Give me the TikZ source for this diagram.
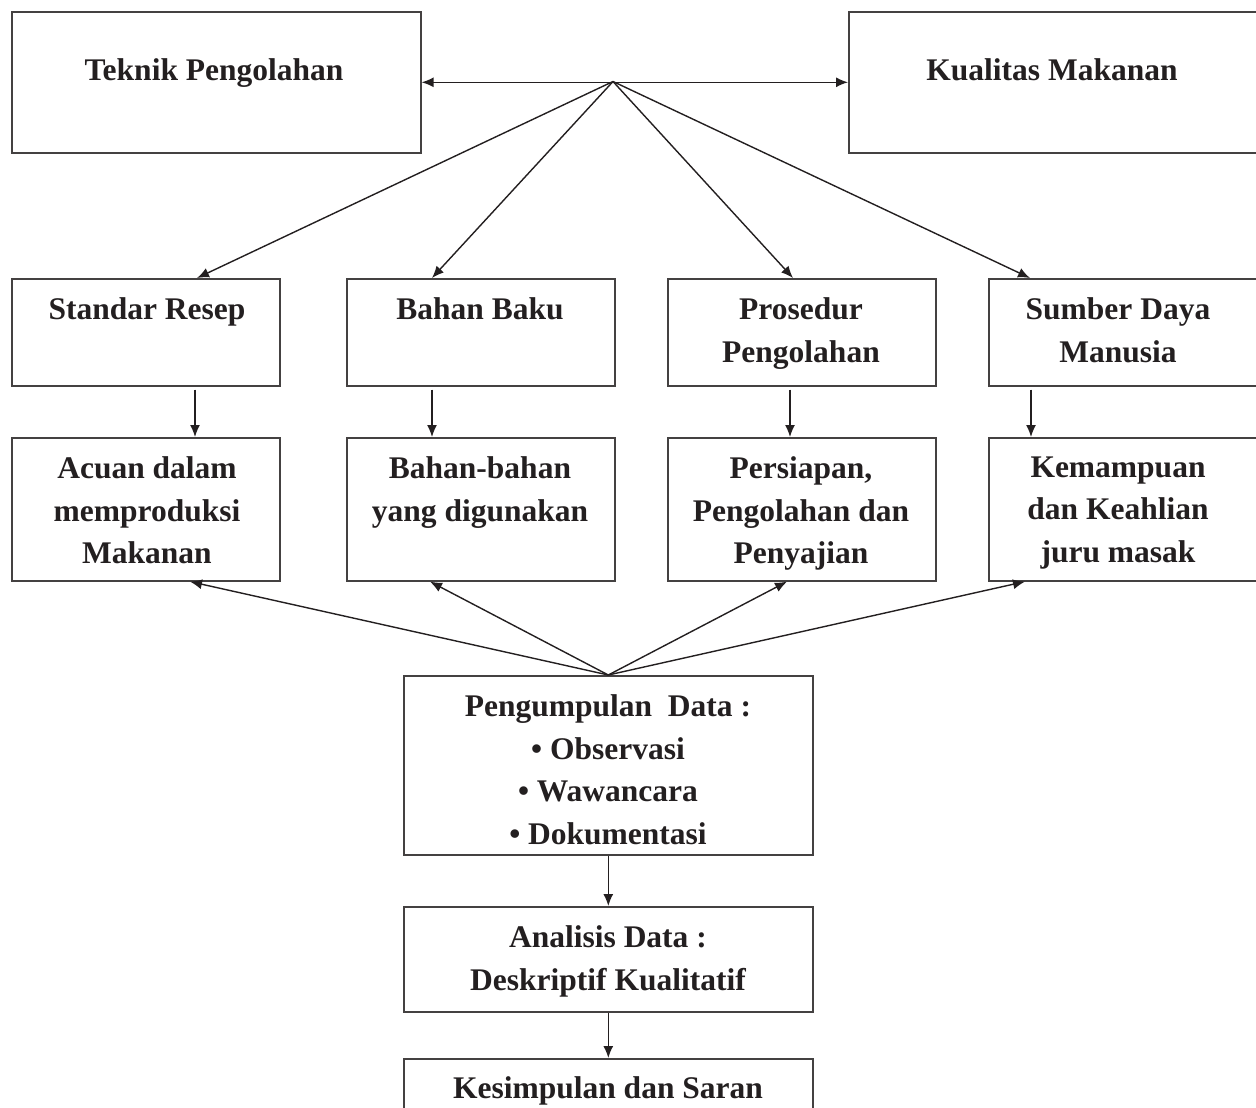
\documentclass[tikz,border=0pt]{standalone}
\usepackage{fontspec}
\setmainfont{Liberation Serif}
\usetikzlibrary{arrows.meta,calc}
\definecolor{ink}{HTML}{231F20}
\begin{document}
\begin{tikzpicture}[x=1pt,y=-1pt,
  box/.style={draw=ink!85, line width=1.6pt, rectangle, inner sep=0pt, anchor=north west},
  lbl/.style={anchor=north, inner sep=0pt, align=center, text=ink, font=\bfseries\fontsize{31.5}{42.5}\selectfont},
  arr/.style={draw=ink, line width=1.4pt, -{Latex[length=12pt,width=10pt]}},
  darr/.style={draw=ink, line width=1.4pt, {Latex[length=12pt,width=10pt]}-{Latex[length=12pt,width=10pt]}},
]
\path[use as bounding box] (0,0) rectangle (1256,1108);
\clip (0,0) rectangle (1256,1108);
% boxes
\node[box, minimum width=409pt, minimum height=141pt] (tek) at (11,11) {};
\node[box, minimum width=414pt, minimum height=141pt] (kual) at (848,11) {};
\node[box, minimum width=268pt, minimum height=107pt] (sr) at (11,278) {};
\node[box, minimum width=268pt, minimum height=107pt] (bb) at (346,278) {};
\node[box, minimum width=268pt, minimum height=107pt] (ps) at (667,278) {};
\node[box, minimum width=274pt, minimum height=107pt] (sdm) at (988,278) {};
\node[box, minimum width=268pt, minimum height=143pt] (ac) at (11,437) {};
\node[box, minimum width=268pt, minimum height=143pt] (bh) at (346,437) {};
\node[box, minimum width=268pt, minimum height=143pt] (pp) at (667,437) {};
\node[box, minimum width=274pt, minimum height=143pt] (km) at (988,437) {};
\node[box, minimum width=409pt, minimum height=179pt] (peng) at (403,675) {};
\node[box, minimum width=409pt, minimum height=105pt] (ana) at (403,906) {};
\node[box, minimum width=409pt, minimum height=80pt] (kes) at (403,1058) {};
% labels
\node[lbl] (tekt) at (214,58.5) {Teknik Pengolahan};
\node[lbl] (kualt) at (1052,58.5) {Kualitas Makanan};
\node[lbl] (srt) at (147,297.5) {Standar Resep};
\node[lbl] (bbt) at (480,297.5) {Bahan Baku};
\node[lbl] (pst) at (801,297.5) {Prosedur\\Pengolahan};
\node[lbl] (sdmt) at (1118,297.5) {Sumber Daya\\Manusia};
\node[lbl] (act) at (147,456.5) {Acuan dalam\\memproduksi\\Makanan};
\node[lbl] (bht) at (480,456.5) {Bahan-bahan\\yang digunakan};
\node[lbl] (ppt) at (801,456.5) {Persiapan,\\Pengolahan dan\\Penyajian};
\node[lbl] (kmt) at (1118,456.5) {Kemampuan\\dan Keahlian\\juru masak};
\node[lbl] (pengt) at (608,694.5) {Pengumpulan~ Data :\\• Observasi\\• Wawancara\\• Dokumentasi};
\node[lbl] (anat) at (608,925.5) {Analisis Data :\\Deskriptif Kualitatif};
\node[lbl] (kest) at (608,1076.5) {Kesimpulan dan Saran};
% top hub
\coordinate (hub) at (613,81.5);
\draw[darr] (tek.east) -- (kual.west);
\draw[arr] (hub) -- ($(sr.north west)+(186,0)$);
\draw[arr] (hub) -- ($(bb.north west)+(86,0)$);
\draw[arr] (hub) -- ($(ps.north west)+(126,0)$);
\draw[arr] (hub) -- ($(sdm.north west)+(42,0)$);
% verticals
\draw[arr] ($(sr.south west)+(184,3)$) -- ($(ac.north west)+(184,0)$);
\draw[arr] ($(bb.south west)+(86,3)$) -- ($(bh.north west)+(86,0)$);
\draw[arr] ($(ps.south west)+(123,3)$) -- ($(pp.north west)+(123,0)$);
\draw[arr] ($(sdm.south west)+(43,3)$) -- ($(km.north west)+(43,0)$);
% bottom hub
\draw[arr] (peng.north) -- ($(ac.south west)+(179,0)$);
\draw[arr] (peng.north) -- ($(bh.south west)+(84,0)$);
\draw[arr] (peng.north) -- ($(pp.south west)+(120,0)$);
\draw[arr] (peng.north) -- ($(km.south west)+(37,0)$);
% chain
\draw[arr] (peng.south) -- (ana.north);
\draw[arr] (ana.south) -- (kes.north);
\end{tikzpicture}
\end{document}
